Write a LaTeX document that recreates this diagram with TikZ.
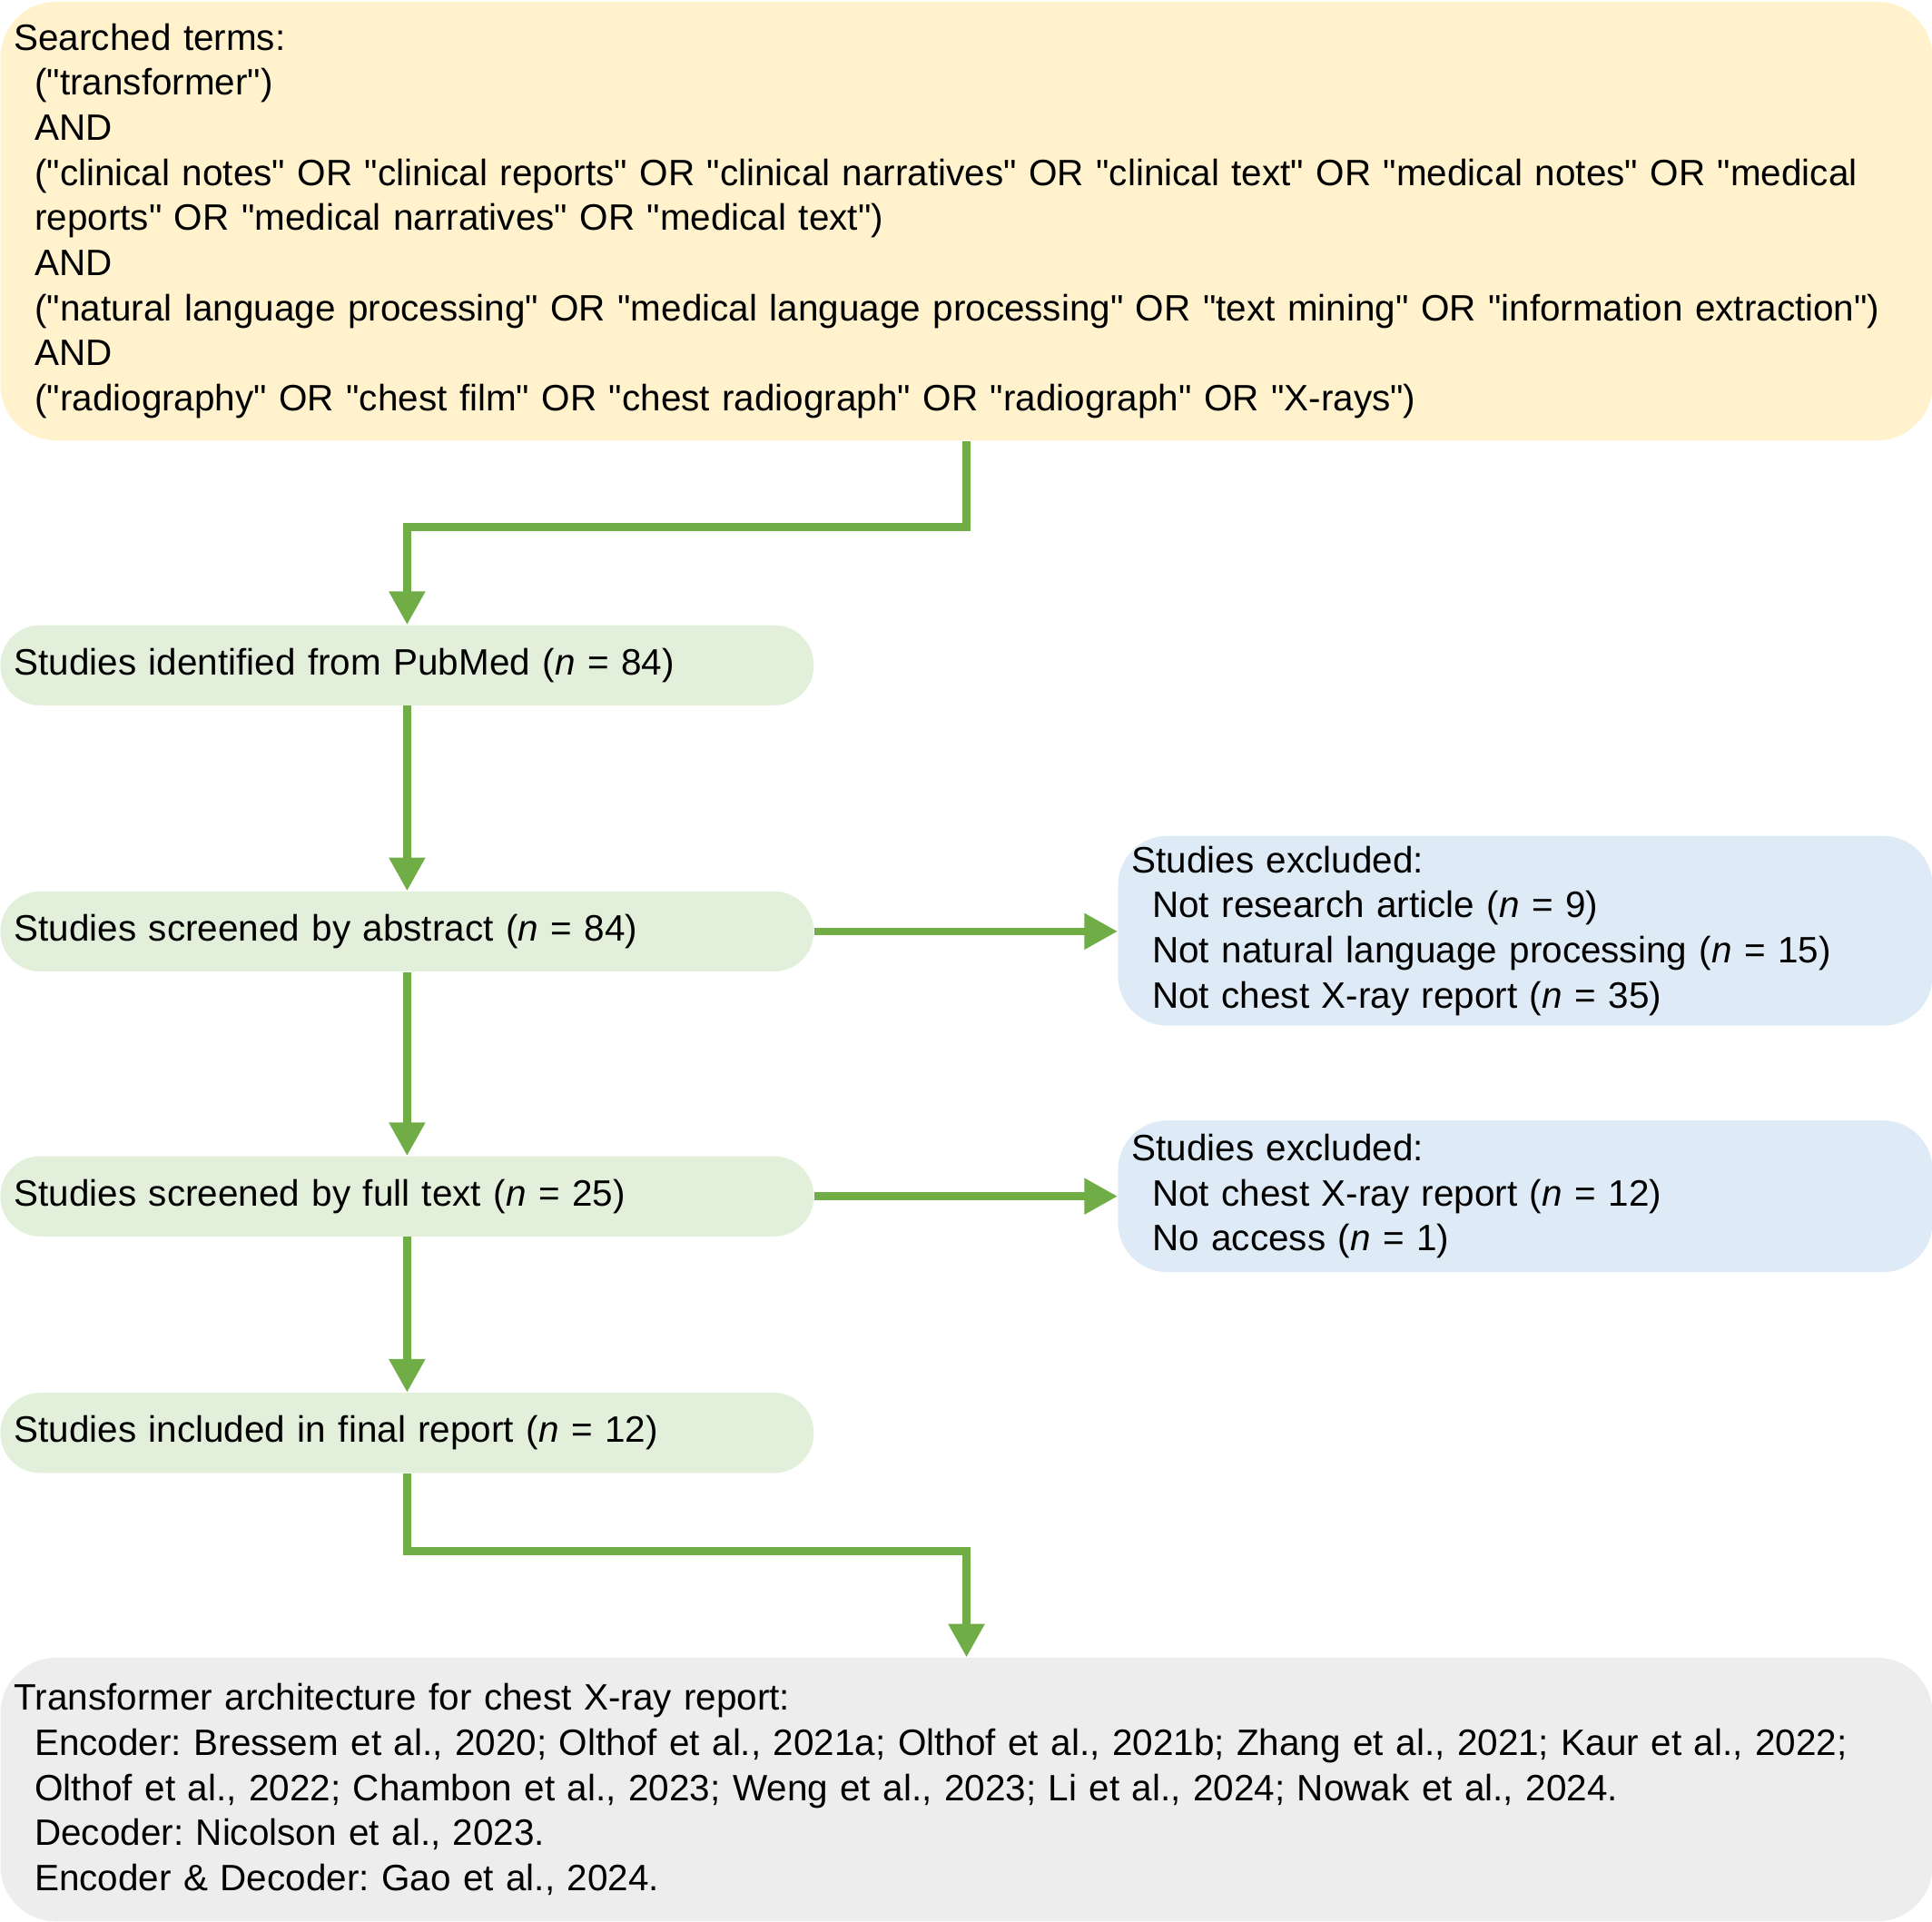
\documentclass[tikz,border=0pt]{standalone}
\usepackage{fontspec}
\setmainfont{Liberation Sans}[Ligatures=TeXOff]
\usetikzlibrary{arrows.meta}
\definecolor{yelfill}{HTML}{FFF2CC}
\definecolor{grnfill}{HTML}{E2EFDA}
\definecolor{blufill}{HTML}{DEEBF7}
\definecolor{gryfill}{HTML}{EDEDED}
\definecolor{arrgreen}{HTML}{70AD47}
\newcommand\boxfont{\frenchspacing\fontsize{14.9pt}{18.3pt}\selectfont}
\newcommand\ind{\hspace*{8.4pt}}
\begin{document}
\begin{tikzpicture}[x=0.5pt,y=-0.5pt,
  box/.style={anchor=north west, inner xsep=5.5pt, inner ysep=0pt, align=left, font=\boxfont, draw=none},
  yelbox/.style={box, fill=yelfill, rounded corners=22.5pt, minimum width=784pt, text width=773pt},
  grnbox/.style={box, fill=grnfill, rounded corners=16pt, minimum width=330pt, text width=319pt, minimum height=32.5pt},
  blubox/.style={box, fill=blufill, rounded corners=20pt, minimum width=330.5pt, text width=319.5pt},
  grybox/.style={box, fill=gryfill, rounded corners=22.5pt, minimum width=784pt, text width=773pt},
  arr/.style={draw=arrgreen, line width=3.1pt, line join=miter, -{Triangle[width=14pt,length=13.5pt]}}]
\useasboundingbox (0,0) rectangle (1568,1559.2);

\node[yelbox, minimum height=178pt] (yel) at (0,1) {Searched terms:\\
\ind("transformer")\\
\ind AND\\
\ind("clinical notes" OR "clinical reports" OR "clinical narratives" OR "clinical text" OR "medical notes" OR "medical\\
\ind reports" OR "medical narratives" OR "medical text")\\
\ind AND\\
\ind("natural language processing" OR "medical language processing" OR "text mining" OR "information extraction")\\
\ind AND\\
\ind("radiography" OR "chest film" OR "chest radiograph" OR "radiograph" OR "X-rays")};

\node[grnbox] (pub) at (0,507) {Studies identified from PubMed (\textit{n} = 84)};
\node[grnbox] (abs) at (0,723) {Studies screened by abstract (\textit{n} = 84)};
\node[grnbox] (full) at (0,938) {Studies screened by full text (\textit{n} = 25)};
\node[grnbox] (fin) at (0,1130) {Studies included in final report (\textit{n} = 12)};

\node[blubox, minimum height=77pt] (ex1) at (907,678) {Studies excluded:\\
\ind Not research article (\textit{n} = 9)\\
\ind Not natural language processing (\textit{n} = 15)\\
\ind Not chest X-ray report (\textit{n} = 35)};
\node[blubox, minimum height=61.5pt] (ex2) at (907,909) {Studies excluded:\\
\ind Not chest X-ray report (\textit{n} = 12)\\
\ind No access (\textit{n} = 1)};

\node[grybox, minimum height=107pt] (gry) at (0,1345) {Transformer architecture for chest X-ray report:\\
\ind Encoder: Bressem et al., 2020; Olthof et al., 2021a; Olthof et al., 2021b; Zhang et al., 2021; Kaur et al., 2022;\\
\ind Olthof et al., 2022; Chambon et al., 2023; Weng et al., 2023; Li et al., 2024; Nowak et al., 2024.\\
\ind Decoder: Nicolson et al., 2023.\\
\ind Encoder \& Decoder: Gao et al., 2024.};

\draw[arr] (yel.south) -- ++(0,70) -| (pub.north);
\draw[arr] (pub.south) -- (abs.north);
\draw[arr] (abs.east) -- (abs.east -| ex1.west);
\draw[arr] (abs.south) -- (full.north);
\draw[arr] (full.east) -- (full.east -| ex2.west);
\draw[arr] (full.south) -- (fin.north);
\draw[arr] (fin.south) -- ++(0,63) -| (gry.north);
\end{tikzpicture}
\end{document}
